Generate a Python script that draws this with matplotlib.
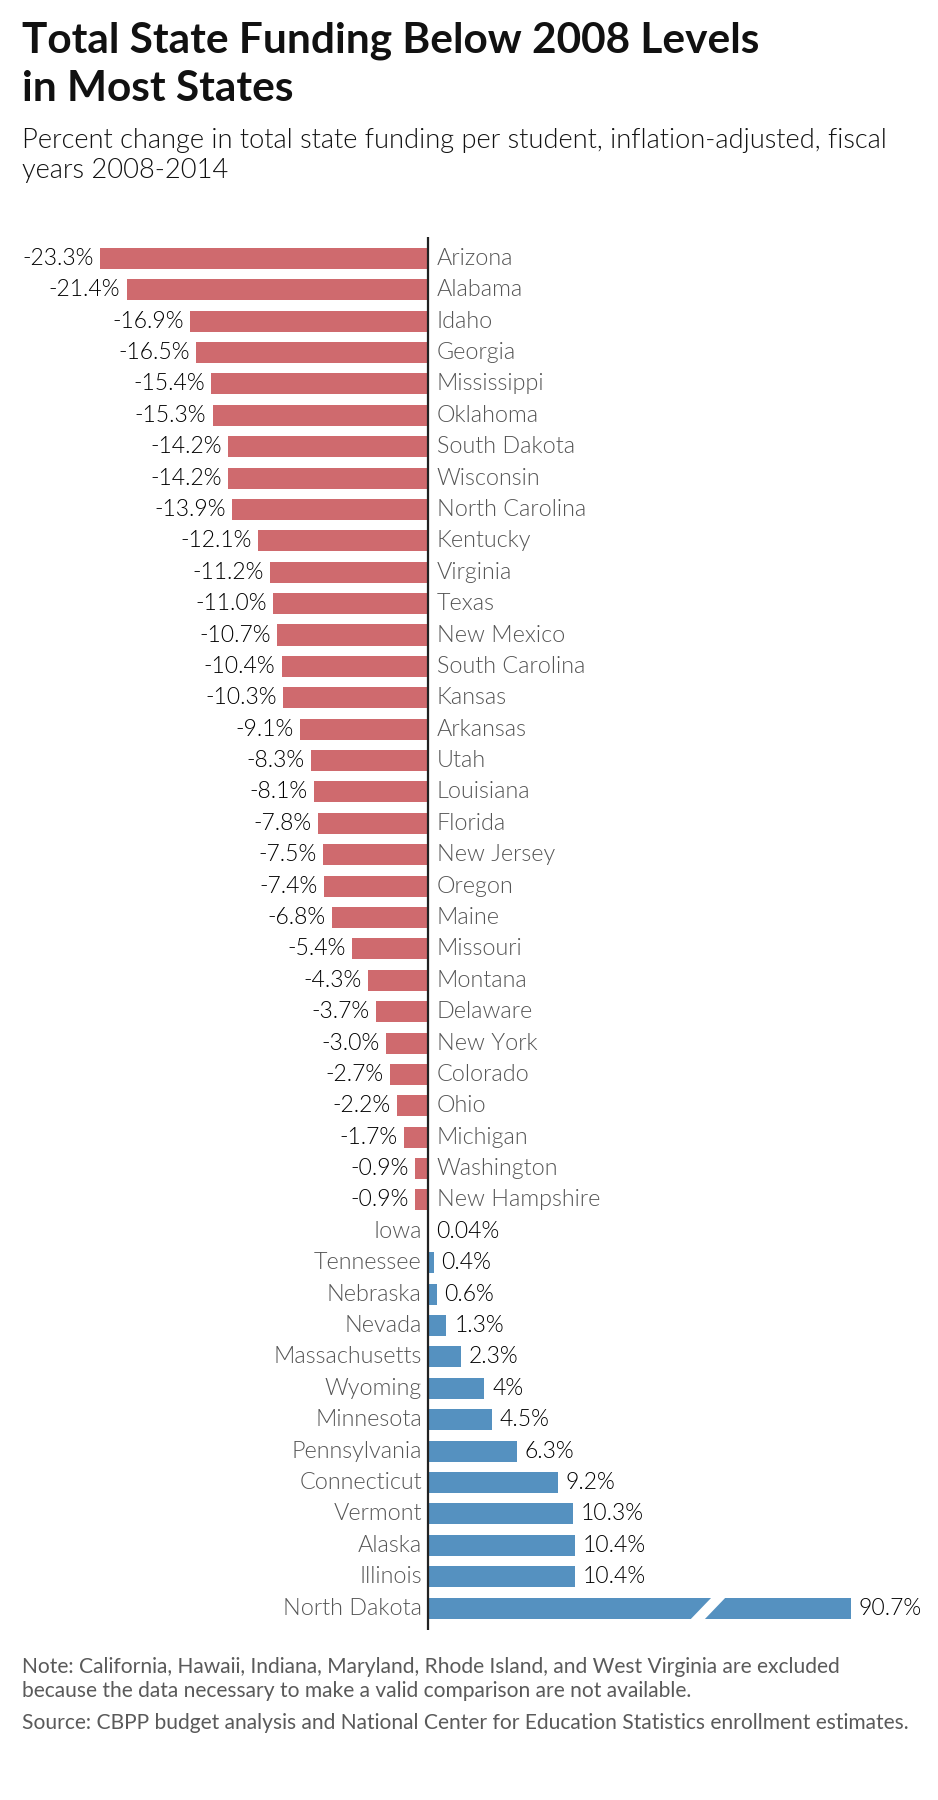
"""
Total state funding per student, percent change 2008-2014.
Horizontal bar chart with one broken bar (North Dakota).
"""

import matplotlib
matplotlib.use("Agg")
import matplotlib.pyplot as plt
from matplotlib.patches import Polygon

plt.rcParams["font.family"] = ["Lato", "DejaVu Sans"]

# Data
states = [
    "Arizona", "Alabama", "Idaho", "Georgia", "Mississippi", "Oklahoma",
    "South Dakota", "Wisconsin", "North Carolina", "Kentucky", "Virginia",
    "Texas", "New Mexico", "South Carolina", "Kansas", "Arkansas", "Utah",
    "Louisiana", "Florida", "New Jersey", "Oregon", "Maine", "Missouri",
    "Montana", "Delaware", "New York", "Colorado", "Ohio", "Michigan",
    "Washington", "New Hampshire", "Iowa", "Tennessee", "Nebraska", "Nevada",
    "Massachusetts", "Wyoming", "Minnesota", "Pennsylvania", "Connecticut",
    "Vermont", "Alaska", "Illinois", "North Dakota",
]
changes = [
    -23.3, -21.4, -16.9, -16.5, -15.4, -15.3, -14.2, -14.2, -13.9, -12.1,
    -11.2, -11.0, -10.7, -10.4, -10.3, -9.1, -8.3, -8.1, -7.8, -7.5, -7.4,
    -6.8, -5.4, -4.3, -3.7, -3.0, -2.7, -2.2, -1.7, -0.9, -0.9, 0.04, 0.4,
    0.6, 1.3, 2.3, 4.0, 4.5, 6.3, 9.2, 10.3, 10.4, 10.4, 90.7,
]
labels = [
    "-23.3%", "-21.4%", "-16.9%", "-16.5%", "-15.4%", "-15.3%", "-14.2%",
    "-14.2%", "-13.9%", "-12.1%", "-11.2%", "-11.0%", "-10.7%", "-10.4%",
    "-10.3%", "-9.1%", "-8.3%", "-8.1%", "-7.8%", "-7.5%", "-7.4%", "-6.8%",
    "-5.4%", "-4.3%", "-3.7%", "-3.0%", "-2.7%", "-2.2%", "-1.7%", "-0.9%",
    "-0.9%", "0.04%", "0.4%", "0.6%", "1.3%", "2.3%", "4%", "4.5%", "6.3%",
    "9.2%", "10.3%", "10.4%", "10.4%", "90.7%",
]

# Bars longer than this are drawn broken
BREAK_AT = 30.0

RED = "#cf6a6e"
BLUE = "#5591c0"
W, H = 938, 1800
LIGHT = 300  # Lato Light


def fy(px):
    """Pixel row (from top) to figure fraction."""
    return 1 - px / H


fig = plt.figure(figsize=(W / 100, H / 100), dpi=100)
fig.patch.set_facecolor("white")

# Titles
fig.text(22 / W, fy(53), "Total State Funding Below 2008 Levels",
         fontsize=30.5, fontweight="bold", color="#111111", va="baseline")
fig.text(22 / W, fy(101), "in Most States",
         fontsize=30.5, fontweight="bold", color="#111111", va="baseline")
fig.text(22 / W, fy(148),
         "Percent change in total state funding per student, inflation-adjusted, fiscal",
         fontsize=19.6, fontweight=LIGHT, color="#111111", va="baseline")
fig.text(22 / W, fy(178), "years 2008-2014",
         fontsize=19.6, fontweight=LIGHT, color="#111111", va="baseline")

# Chart area
ax = fig.add_axes([0, fy(1630), 1, (1630 - 237) / H])
y = list(range(len(states)))
drawn = [min(v, BREAK_AT) for v in changes]
colors = [RED if v < 0 else BLUE for v in changes]
ax.barh(y, drawn, height=0.67, color=colors, edgecolor="none")

ax.set_xlim(-30.4, 36.2)
ax.set_ylim(len(states) - 0.3, -0.68)
ax.axvline(0, color="#222222", linewidth=1.6, zorder=5)
ax.axis("off")

for i, (name, v, d, lab) in enumerate(zip(states, changes, drawn, labels)):
    if v < 0:
        ax.text(d - 0.45, i, lab, ha="right", va="center", fontsize=16.5,
                fontweight=LIGHT, color="#000000")
        ax.text(0.6, i, name, ha="left", va="center", fontsize=16.8,
                fontweight=LIGHT, color="#555555")
    else:
        ax.text(d + 0.55, i, lab, ha="left", va="center", fontsize=16.5,
                fontweight=LIGHT, color="#000000")
        ax.text(-0.45, i, name, ha="right", va="center", fontsize=16.8,
                fontweight=LIGHT, color="#555555")

# Break mark on the long bar
for i, v in enumerate(changes):
    if v > BREAK_AT:
        gap = Polygon([(18.5, i + 0.42), (19.5, i + 0.42),
                       (21.3, i - 0.42), (20.3, i - 0.42)],
                      closed=True, facecolor="white", edgecolor="none", zorder=4)
        ax.add_patch(gap)

# Notes
fig.text(22 / W, fy(1673),
         "Note: California, Hawaii, Indiana, Maryland, Rhode Island, and West Virginia are excluded",
         fontsize=15.1, color="#5a5a5a", va="baseline")
fig.text(22 / W, fy(1697),
         "because the data necessary to make a valid comparison are not available.",
         fontsize=15.1, color="#5a5a5a", va="baseline")
fig.text(22 / W, fy(1729),
         "Source: CBPP budget analysis and National Center for Education Statistics enrollment estimates.",
         fontsize=15.1, color="#5a5a5a", va="baseline")

fig.savefig("out.png", dpi=100)
